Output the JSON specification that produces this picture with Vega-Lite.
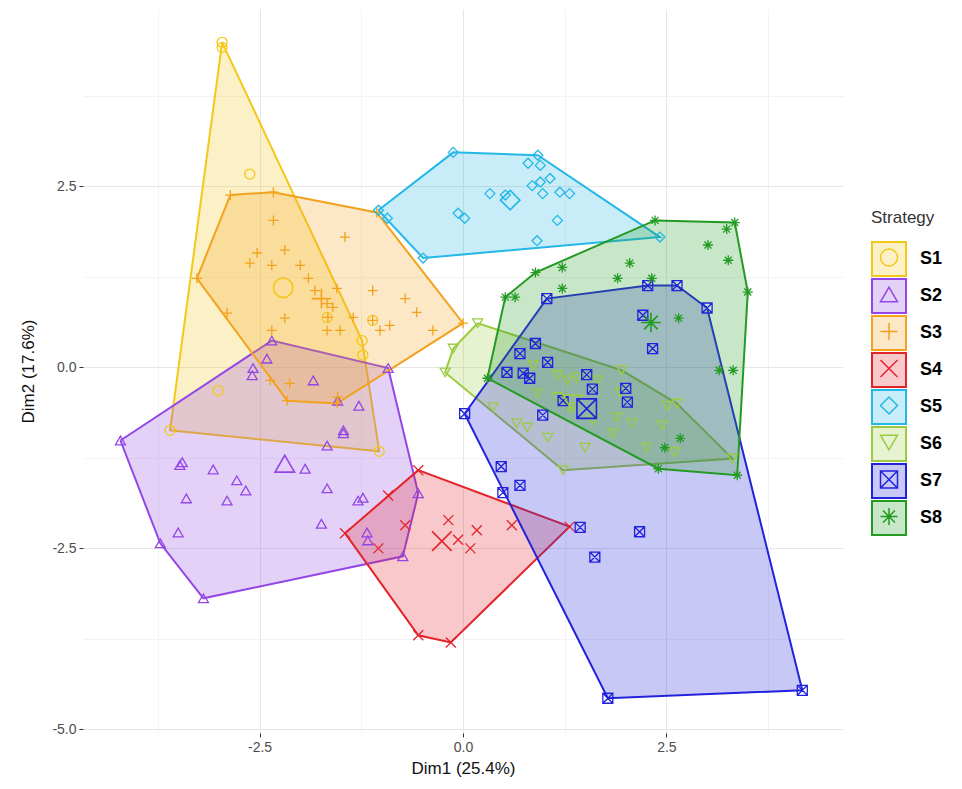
{
  "$schema": "https://vega.github.io/schema/vega-lite/v6.json",
  "width": 760,
  "height": 724,
  "autosize": {"type": "none"},
  "padding": {"left": 83, "top": 9, "right": 119, "bottom": 56},
  "background": "white",
  "config": {
    "view": {"stroke": null},
    "font": "Liberation Sans",
    "axis": {
      "domain": false,
      "tickSize": 4,
      "labelFontSize": 14,
      "labelColor": "#4D4D4D",
      "labelFont": "Liberation Sans",
      "titleFont": "Liberation Sans",
      "titleFontSize": 17,
      "titleFontWeight": "normal",
      "titleColor": "#111111",
      "labelExpr": "abs(datum.value % 2.5) < 0.01 ? replace(format(datum.value, '.1f'), '\u2212', '-') : ''",
      "gridColor": {"condition": {"test": "abs(datum.value % 2.5) > 0.01", "value": "#F3F3F3"}, "value": "#E6E6E6"},
      "tickColor": {"condition": {"test": "abs(datum.value % 2.5) > 0.01", "value": "transparent"}, "value": "#333333"}
    }
  },
  "datasets": {
    "hull": [
      {"Strategy": "S1", "i": 0, "x": -2.96, "y": 4.49},
      {"Strategy": "S1", "i": 1, "x": -1.24, "y": 0.37},
      {"Strategy": "S1", "i": 2, "x": -1.03, "y": -1.16},
      {"Strategy": "S1", "i": 3, "x": -3.60, "y": -0.87},
      {"Strategy": "S1", "i": 4, "x": -2.96, "y": 4.49},
      {"Strategy": "S2", "i": 0, "x": -4.21, "y": -1.01},
      {"Strategy": "S2", "i": 1, "x": -2.35, "y": 0.37},
      {"Strategy": "S2", "i": 2, "x": -0.92, "y": -0.01},
      {"Strategy": "S2", "i": 3, "x": -0.55, "y": -1.74},
      {"Strategy": "S2", "i": 4, "x": -0.74, "y": -2.61},
      {"Strategy": "S2", "i": 5, "x": -3.19, "y": -3.19},
      {"Strategy": "S2", "i": 6, "x": -3.72, "y": -2.43},
      {"Strategy": "S2", "i": 7, "x": -4.21, "y": -1.01},
      {"Strategy": "S3", "i": 0, "x": -2.86, "y": 2.38},
      {"Strategy": "S3", "i": 1, "x": -2.33, "y": 2.42},
      {"Strategy": "S3", "i": 2, "x": -1.06, "y": 2.14},
      {"Strategy": "S3", "i": 3, "x": 0.00, "y": 0.61},
      {"Strategy": "S3", "i": 4, "x": -1.55, "y": -0.50},
      {"Strategy": "S3", "i": 5, "x": -2.16, "y": -0.46},
      {"Strategy": "S3", "i": 6, "x": -3.27, "y": 1.23},
      {"Strategy": "S3", "i": 7, "x": -2.86, "y": 2.38},
      {"Strategy": "S4", "i": 0, "x": -1.45, "y": -2.29},
      {"Strategy": "S4", "i": 1, "x": -0.55, "y": -1.42},
      {"Strategy": "S4", "i": 2, "x": 1.31, "y": -2.20},
      {"Strategy": "S4", "i": 3, "x": -0.15, "y": -3.80},
      {"Strategy": "S4", "i": 4, "x": -0.55, "y": -3.70},
      {"Strategy": "S4", "i": 5, "x": -1.45, "y": -2.29},
      {"Strategy": "S5", "i": 0, "x": -1.04, "y": 2.17},
      {"Strategy": "S5", "i": 1, "x": -0.12, "y": 2.97},
      {"Strategy": "S5", "i": 2, "x": 0.92, "y": 2.93},
      {"Strategy": "S5", "i": 3, "x": 2.42, "y": 1.80},
      {"Strategy": "S5", "i": 4, "x": -0.49, "y": 1.51},
      {"Strategy": "S5", "i": 5, "x": -1.04, "y": 2.17},
      {"Strategy": "S6", "i": 0, "x": 0.18, "y": 0.61},
      {"Strategy": "S6", "i": 1, "x": 1.95, "y": -0.04},
      {"Strategy": "S6", "i": 2, "x": 2.63, "y": -0.50},
      {"Strategy": "S6", "i": 3, "x": 3.31, "y": -1.26},
      {"Strategy": "S6", "i": 4, "x": 1.23, "y": -1.42},
      {"Strategy": "S6", "i": 5, "x": -0.22, "y": -0.07},
      {"Strategy": "S6", "i": 6, "x": -0.12, "y": 0.26},
      {"Strategy": "S6", "i": 7, "x": 0.18, "y": 0.61},
      {"Strategy": "S7", "i": 0, "x": 0.02, "y": -0.64},
      {"Strategy": "S7", "i": 1, "x": 1.03, "y": 0.95},
      {"Strategy": "S7", "i": 2, "x": 2.27, "y": 1.13},
      {"Strategy": "S7", "i": 3, "x": 2.63, "y": 1.13},
      {"Strategy": "S7", "i": 4, "x": 3.00, "y": 0.82},
      {"Strategy": "S7", "i": 5, "x": 4.17, "y": -4.46},
      {"Strategy": "S7", "i": 6, "x": 1.78, "y": -4.57},
      {"Strategy": "S7", "i": 7, "x": 0.02, "y": -0.64},
      {"Strategy": "S8", "i": 0, "x": 0.30, "y": -0.15},
      {"Strategy": "S8", "i": 1, "x": 0.52, "y": 0.97},
      {"Strategy": "S8", "i": 2, "x": 0.89, "y": 1.31},
      {"Strategy": "S8", "i": 3, "x": 2.36, "y": 2.03},
      {"Strategy": "S8", "i": 4, "x": 3.34, "y": 2.00},
      {"Strategy": "S8", "i": 5, "x": 3.50, "y": 1.04},
      {"Strategy": "S8", "i": 6, "x": 3.37, "y": -1.49},
      {"Strategy": "S8", "i": 7, "x": 2.40, "y": -1.40},
      {"Strategy": "S8", "i": 8, "x": 0.30, "y": -0.15}
    ],
    "pts": [
      {"Strategy": "S1", "x": -2.96, "y": 4.49}, {"Strategy": "S1", "x": -2.96, "y": 4.42},
      {"Strategy": "S1", "x": -1.24, "y": 0.37}, {"Strategy": "S1", "x": -1.03, "y": -1.16},
      {"Strategy": "S1", "x": -3.60, "y": -0.87}, {"Strategy": "S1", "x": -2.62, "y": 2.67},
      {"Strategy": "S1", "x": -3.01, "y": -0.32}, {"Strategy": "S1", "x": -1.23, "y": 0.17},
      {"Strategy": "S1", "x": -1.67, "y": 0.69}, {"Strategy": "S1", "x": -1.11, "y": 0.65},
      {"Strategy": "S2", "x": -4.21, "y": -1.01}, {"Strategy": "S2", "x": -2.35, "y": 0.37},
      {"Strategy": "S2", "x": -0.92, "y": -0.01}, {"Strategy": "S2", "x": -0.55, "y": -1.74},
      {"Strategy": "S2", "x": -0.74, "y": -2.61}, {"Strategy": "S2", "x": -3.19, "y": -3.19},
      {"Strategy": "S2", "x": -3.72, "y": -2.43}, {"Strategy": "S2", "x": -2.41, "y": 0.12},
      {"Strategy": "S2", "x": -2.59, "y": -0.11}, {"Strategy": "S2", "x": -2.58, "y": -0.01},
      {"Strategy": "S2", "x": -1.84, "y": -0.18}, {"Strategy": "S2", "x": -1.54, "y": -0.46},
      {"Strategy": "S2", "x": -1.28, "y": -0.53}, {"Strategy": "S2", "x": -1.47, "y": -0.87},
      {"Strategy": "S2", "x": -1.47, "y": -0.91}, {"Strategy": "S2", "x": -1.67, "y": -1.08},
      {"Strategy": "S2", "x": -3.45, "y": -1.31}, {"Strategy": "S2", "x": -3.48, "y": -1.35},
      {"Strategy": "S2", "x": -3.07, "y": -1.41}, {"Strategy": "S2", "x": -2.78, "y": -1.56},
      {"Strategy": "S2", "x": -2.67, "y": -1.70}, {"Strategy": "S2", "x": -3.40, "y": -1.81},
      {"Strategy": "S2", "x": -2.90, "y": -1.84}, {"Strategy": "S2", "x": -3.50, "y": -2.28},
      {"Strategy": "S2", "x": -1.94, "y": -1.40}, {"Strategy": "S2", "x": -1.67, "y": -1.67},
      {"Strategy": "S2", "x": -1.74, "y": -2.16}, {"Strategy": "S2", "x": -1.23, "y": -1.80},
      {"Strategy": "S2", "x": -1.29, "y": -1.84}, {"Strategy": "S2", "x": -1.18, "y": -2.28},
      {"Strategy": "S2", "x": -1.17, "y": -2.39},
      {"Strategy": "S3", "x": -2.86, "y": 2.38}, {"Strategy": "S3", "x": -2.33, "y": 2.42},
      {"Strategy": "S3", "x": -1.06, "y": 2.14}, {"Strategy": "S3", "x": 0.00, "y": 0.61},
      {"Strategy": "S3", "x": -1.55, "y": -0.50}, {"Strategy": "S3", "x": -2.16, "y": -0.46},
      {"Strategy": "S3", "x": -3.27, "y": 1.23}, {"Strategy": "S3", "x": -2.33, "y": 2.03},
      {"Strategy": "S3", "x": -1.45, "y": 1.80}, {"Strategy": "S3", "x": -2.53, "y": 1.58},
      {"Strategy": "S3", "x": -2.62, "y": 1.44}, {"Strategy": "S3", "x": -2.35, "y": 1.41},
      {"Strategy": "S3", "x": -2.19, "y": 1.62}, {"Strategy": "S3", "x": -2.00, "y": 1.41},
      {"Strategy": "S3", "x": -1.90, "y": 1.23}, {"Strategy": "S3", "x": -1.82, "y": 1.06},
      {"Strategy": "S3", "x": -1.55, "y": 1.09}, {"Strategy": "S3", "x": -1.67, "y": 0.88},
      {"Strategy": "S3", "x": -1.60, "y": 0.83}, {"Strategy": "S3", "x": -1.66, "y": 0.69},
      {"Strategy": "S3", "x": -1.67, "y": 0.51}, {"Strategy": "S3", "x": -1.51, "y": 0.51},
      {"Strategy": "S3", "x": -1.35, "y": 0.69}, {"Strategy": "S3", "x": -1.11, "y": 1.06},
      {"Strategy": "S3", "x": -1.11, "y": 0.65}, {"Strategy": "S3", "x": -2.90, "y": 0.75},
      {"Strategy": "S3", "x": -2.19, "y": 0.68}, {"Strategy": "S3", "x": -2.35, "y": 0.51},
      {"Strategy": "S3", "x": -2.37, "y": -0.18}, {"Strategy": "S3", "x": -2.13, "y": -0.22},
      {"Strategy": "S3", "x": -1.02, "y": 0.51}, {"Strategy": "S3", "x": -0.90, "y": 0.58},
      {"Strategy": "S3", "x": -0.57, "y": 0.76}, {"Strategy": "S3", "x": -0.37, "y": 0.51},
      {"Strategy": "S3", "x": -0.71, "y": 0.95}, {"Strategy": "S3", "x": -1.54, "y": -0.41},
      {"Strategy": "S4", "x": -1.45, "y": -2.29}, {"Strategy": "S4", "x": -0.55, "y": -1.42},
      {"Strategy": "S4", "x": 1.31, "y": -2.20}, {"Strategy": "S4", "x": -0.15, "y": -3.80},
      {"Strategy": "S4", "x": -0.55, "y": -3.70}, {"Strategy": "S4", "x": -0.92, "y": -1.77},
      {"Strategy": "S4", "x": -0.71, "y": -2.18}, {"Strategy": "S4", "x": -1.04, "y": -2.50},
      {"Strategy": "S4", "x": -0.18, "y": -2.11}, {"Strategy": "S4", "x": 0.17, "y": -2.25},
      {"Strategy": "S4", "x": -0.06, "y": -2.38}, {"Strategy": "S4", "x": 0.09, "y": -2.50},
      {"Strategy": "S4", "x": 0.60, "y": -2.18},
      {"Strategy": "S5", "x": -1.04, "y": 2.17}, {"Strategy": "S5", "x": -0.12, "y": 2.97},
      {"Strategy": "S5", "x": 0.92, "y": 2.93}, {"Strategy": "S5", "x": 2.42, "y": 1.80},
      {"Strategy": "S5", "x": -0.49, "y": 1.51}, {"Strategy": "S5", "x": 0.80, "y": 2.82},
      {"Strategy": "S5", "x": 0.95, "y": 2.79}, {"Strategy": "S5", "x": 1.07, "y": 2.61},
      {"Strategy": "S5", "x": 0.85, "y": 2.51}, {"Strategy": "S5", "x": 0.95, "y": 2.56},
      {"Strategy": "S5", "x": 0.98, "y": 2.40}, {"Strategy": "S5", "x": 1.19, "y": 2.42},
      {"Strategy": "S5", "x": 1.31, "y": 2.40}, {"Strategy": "S5", "x": 0.33, "y": 2.40},
      {"Strategy": "S5", "x": 0.52, "y": 2.38}, {"Strategy": "S5", "x": -0.06, "y": 2.13},
      {"Strategy": "S5", "x": 0.02, "y": 2.06}, {"Strategy": "S5", "x": 1.16, "y": 2.03},
      {"Strategy": "S5", "x": 0.91, "y": 1.75}, {"Strategy": "S5", "x": -0.93, "y": 2.06},
      {"Strategy": "S6", "x": 0.18, "y": 0.61}, {"Strategy": "S6", "x": 1.95, "y": -0.04},
      {"Strategy": "S6", "x": 2.63, "y": -0.50}, {"Strategy": "S6", "x": 3.31, "y": -1.26},
      {"Strategy": "S6", "x": 1.23, "y": -1.42}, {"Strategy": "S6", "x": -0.22, "y": -0.07},
      {"Strategy": "S6", "x": -0.12, "y": 0.26}, {"Strategy": "S6", "x": 0.37, "y": -0.55},
      {"Strategy": "S6", "x": 0.66, "y": -0.77}, {"Strategy": "S6", "x": 0.79, "y": -0.83},
      {"Strategy": "S6", "x": 1.04, "y": -0.97}, {"Strategy": "S6", "x": 1.50, "y": -1.11},
      {"Strategy": "S6", "x": 0.86, "y": 0.03}, {"Strategy": "S6", "x": 1.16, "y": -0.11},
      {"Strategy": "S6", "x": 1.28, "y": -0.18}, {"Strategy": "S6", "x": 1.40, "y": -0.14},
      {"Strategy": "S6", "x": 1.65, "y": -0.18}, {"Strategy": "S6", "x": 0.91, "y": -0.36},
      {"Strategy": "S6", "x": 1.16, "y": -0.41}, {"Strategy": "S6", "x": 1.31, "y": -0.55},
      {"Strategy": "S6", "x": 1.60, "y": -0.73}, {"Strategy": "S6", "x": 1.89, "y": -0.69},
      {"Strategy": "S6", "x": 1.84, "y": -0.91}, {"Strategy": "S6", "x": 1.93, "y": -0.35},
      {"Strategy": "S6", "x": 2.08, "y": -0.77}, {"Strategy": "S6", "x": 2.45, "y": -0.80},
      {"Strategy": "S6", "x": 2.51, "y": -0.53}, {"Strategy": "S6", "x": 2.26, "y": -1.11},
      {"Strategy": "S6", "x": 2.60, "y": -1.17},
      {"Strategy": "S7", "x": 0.02, "y": -0.64}, {"Strategy": "S7", "x": 1.03, "y": 0.95},
      {"Strategy": "S7", "x": 2.27, "y": 1.13}, {"Strategy": "S7", "x": 2.63, "y": 1.13},
      {"Strategy": "S7", "x": 3.00, "y": 0.82}, {"Strategy": "S7", "x": 4.17, "y": -4.46},
      {"Strategy": "S7", "x": 1.78, "y": -4.57}, {"Strategy": "S7", "x": 0.89, "y": 0.33},
      {"Strategy": "S7", "x": 0.70, "y": 0.19}, {"Strategy": "S7", "x": 1.04, "y": 0.07},
      {"Strategy": "S7", "x": 0.54, "y": -0.07}, {"Strategy": "S7", "x": 0.74, "y": -0.08},
      {"Strategy": "S7", "x": 0.82, "y": -0.15}, {"Strategy": "S7", "x": 1.52, "y": -0.10},
      {"Strategy": "S7", "x": 1.59, "y": -0.30}, {"Strategy": "S7", "x": 2.00, "y": -0.29},
      {"Strategy": "S7", "x": 2.02, "y": -0.48}, {"Strategy": "S7", "x": 1.23, "y": -0.46},
      {"Strategy": "S7", "x": 0.98, "y": -0.66}, {"Strategy": "S7", "x": 0.47, "y": -1.37},
      {"Strategy": "S7", "x": 0.70, "y": -1.63}, {"Strategy": "S7", "x": 0.49, "y": -1.73},
      {"Strategy": "S7", "x": 1.44, "y": -2.21}, {"Strategy": "S7", "x": 1.62, "y": -2.62},
      {"Strategy": "S7", "x": 2.17, "y": -2.27}, {"Strategy": "S7", "x": 2.21, "y": 0.72},
      {"Strategy": "S7", "x": 2.33, "y": 0.26},
      {"Strategy": "S8", "x": 0.30, "y": -0.15}, {"Strategy": "S8", "x": 0.52, "y": 0.97},
      {"Strategy": "S8", "x": 0.89, "y": 1.31}, {"Strategy": "S8", "x": 2.36, "y": 2.03},
      {"Strategy": "S8", "x": 3.34, "y": 2.00}, {"Strategy": "S8", "x": 3.50, "y": 1.04},
      {"Strategy": "S8", "x": 3.37, "y": -1.49}, {"Strategy": "S8", "x": 2.40, "y": -1.40},
      {"Strategy": "S8", "x": 1.22, "y": 1.38}, {"Strategy": "S8", "x": 0.64, "y": 0.97},
      {"Strategy": "S8", "x": 1.22, "y": 1.09}, {"Strategy": "S8", "x": 2.05, "y": 1.44},
      {"Strategy": "S8", "x": 1.90, "y": 1.23}, {"Strategy": "S8", "x": 2.32, "y": 1.23},
      {"Strategy": "S8", "x": 3.24, "y": 1.91}, {"Strategy": "S8", "x": 3.01, "y": 1.69},
      {"Strategy": "S8", "x": 3.26, "y": 1.48}, {"Strategy": "S8", "x": 2.65, "y": 0.68},
      {"Strategy": "S8", "x": 3.15, "y": -0.04}, {"Strategy": "S8", "x": 3.32, "y": -0.04},
      {"Strategy": "S8", "x": 2.67, "y": -0.98}, {"Strategy": "S8", "x": 2.48, "y": -1.11}
    ],
    "cent": [
      {"Strategy": "S1", "x": -2.21, "y": 1.10},
      {"Strategy": "S2", "x": -2.19, "y": -1.33},
      {"Strategy": "S3", "x": -1.74, "y": 0.95},
      {"Strategy": "S4", "x": -0.26, "y": -2.40},
      {"Strategy": "S5", "x": 0.58, "y": 2.31},
      {"Strategy": "S6", "x": 1.35, "y": -0.50},
      {"Strategy": "S7", "x": 1.52, "y": -0.57},
      {"Strategy": "S8", "x": 2.31, "y": 0.62}
    ]
  },
  "layer": [
    {
      "data": {"name": "hull"},
      "mark": {"type": "line", "fillOpacity": 0.25, "strokeWidth": 2},
      "encoding": {
        "x": {"field": "x", "type": "quantitative", "title": "Dim1 (25.4%)",
              "scale": {"domain": [-4.67, 4.67], "nice": false, "zero": false},
              "axis": {"values": [-3.75, -2.5, -1.25, 0, 1.25, 2.5, 3.75], "titlePadding": 6, "labelPadding": 3}},
        "y": {"field": "y", "type": "quantitative", "title": "Dim2 (17.6%)",
              "scale": {"domain": [-5.05, 4.95], "nice": false, "zero": false},
              "axis": {"values": [-5, -3.75, -2.5, -1.25, 0, 1.25, 2.5, 3.75], "titlePadding": 14, "labelPadding": 3}},
        "order": {"field": "i", "type": "quantitative"},
        "fill": {"field": "Strategy", "type": "nominal",
                 "scale": {"range": ["#F4C81A", "#9346E5", "#F2A21C", "#E3242B", "#25B7E6", "#9CCB42", "#2222DD", "#239B23"]},
                 "legend": {"title": "Strategy", "orient": "none", "legendX": 788, "legendY": 200.5,
                            "symbolType": "square", "symbolSize": 1156, "symbolStrokeWidth": 2,
                            "clipHeight": 37, "rowPadding": 0,
                            "titlePadding": 14, "labelOffset": 13, "labelFontSize": 18, "labelFontWeight": "bold",
                            "labelColor": "#000000", "labelFont": "Liberation Sans", "titleFont": "Liberation Sans",
                            "titleFontSize": 17, "titleFontWeight": "normal", "titleColor": "#333333",
                            "encode": {"symbols": {"update": {"fillOpacity": {"value": 0.25}}}}}},
        "stroke": {"field": "Strategy", "type": "nominal",
                   "scale": {"range": ["#F4C81A", "#9346E5", "#F2A21C", "#E3242B", "#25B7E6", "#9CCB42", "#2222DD", "#239B23"]},
                   "legend": {"title": "Strategy", "orient": "none", "legendX": 788, "legendY": 200.5,
                              "symbolType": "square", "symbolSize": 1156, "symbolStrokeWidth": 2,
                              "clipHeight": 37, "rowPadding": 0,
                              "titlePadding": 14, "labelOffset": 13, "labelFontSize": 18, "labelFontWeight": "bold",
                              "labelColor": "#000000", "labelFont": "Liberation Sans", "titleFont": "Liberation Sans",
                              "titleFontSize": 17, "titleFontWeight": "normal", "titleColor": "#333333",
                              "encode": {"symbols": {"update": {"fillOpacity": {"value": 0.25}}}}}}
      }
    },
    {
      "data": {"name": "pts"},
      "mark": {"type": "point", "filled": false, "size": 100, "strokeWidth": 1.3, "opacity": 1},
      "encoding": {
        "x": {"field": "x", "type": "quantitative"},
        "y": {"field": "y", "type": "quantitative"},
        "color": {"field": "Strategy", "type": "nominal",
                  "scale": {"range": ["#F4C81A", "#9346E5", "#F2A21C", "#E3242B", "#25B7E6", "#9CCB42", "#2222DD", "#239B23"]},
                  "legend": {"title": null, "orient": "none", "legendX": 788, "legendY": 230,
                             "symbolSize": 289, "symbolStrokeWidth": 1.5, "clipHeight": 37, "rowPadding": 0,
                             "labelExpr": "''", "labelFontSize": 36}},
        "shape": {"field": "Strategy", "type": "nominal",
                  "scale": {"range": ["circle", "triangle-up", "M-1,0H1M0,-1V1", "M-1,-1L1,1M-1,1L1,-1", "diamond", "triangle-down", "M-1,-1H1V1H-1ZM-1,-1L1,1M-1,1L1,-1", "M-1,0H1M0,-1V1M-0.7,-0.7L0.7,0.7M-0.7,0.7L0.7,-0.7"]},
                  "legend": {"title": null, "orient": "none", "legendX": 788, "legendY": 230,
                             "symbolSize": 289, "symbolStrokeWidth": 1.5, "clipHeight": 37, "rowPadding": 0,
                             "labelExpr": "''", "labelFontSize": 36}}
      }
    },
    {
      "data": {"name": "cent"},
      "mark": {"type": "point", "filled": false, "size": 380, "strokeWidth": 1.6, "opacity": 1},
      "encoding": {
        "x": {"field": "x", "type": "quantitative"},
        "y": {"field": "y", "type": "quantitative"},
        "color": {"field": "Strategy", "type": "nominal"},
        "shape": {"field": "Strategy", "type": "nominal"}
      }
    }
  ]
}
